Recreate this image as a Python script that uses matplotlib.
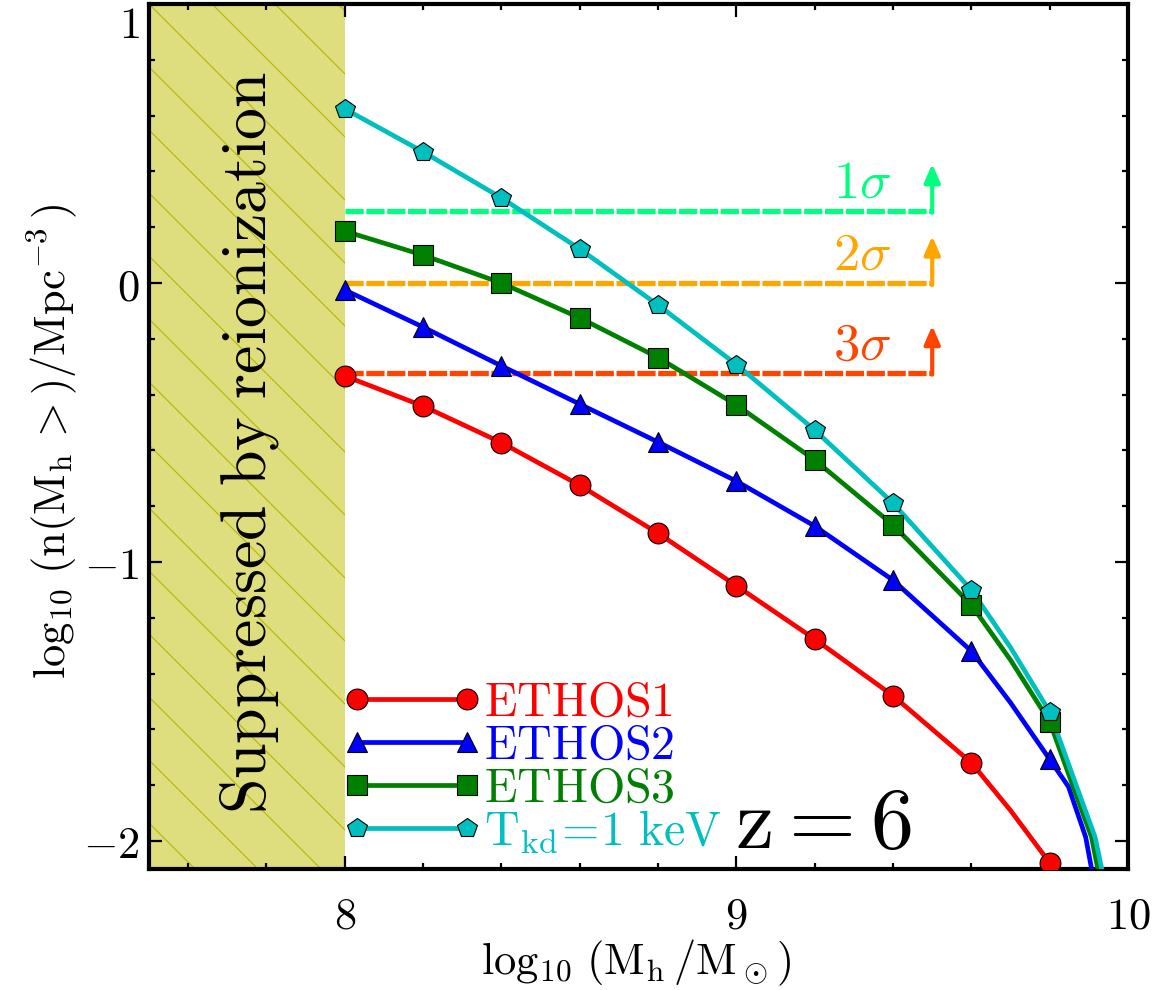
import numpy as np
import matplotlib
matplotlib.use('Agg')
import matplotlib.pyplot as plt
from matplotlib.ticker import MultipleLocator
from matplotlib.legend_handler import HandlerLine2D

plt.rcParams['mathtext.fontset'] = 'cm'
plt.rcParams['font.family'] = 'serif'
plt.rcParams['font.serif'] = ['DejaVu Serif']

# halo mass grid where the markers sit
logM = [8.0, 8.2, 8.4, 8.6, 8.8, 9.0, 9.2, 9.4, 9.6, 9.8]

# cumulative halo mass function, log10 n(>M) [Mpc^-3]
ethos1 = [-0.333, -0.441, -0.572, -0.725, -0.897, -1.085, -1.276, -1.479, -1.719, -2.078]
ethos2 = [-0.025, -0.158, -0.297, -0.434, -0.570, -0.710, -0.871, -1.065, -1.319, -1.707]
ethos3 = [0.186, 0.100, 0.000, -0.125, -0.267, -0.437, -0.634, -0.867, -1.154, -1.572]
tkd1kev = [0.624, 0.470, 0.305, 0.122, -0.079, -0.292, -0.527, -0.789, -1.100, -1.537]

# extra points read along the steep tail of each curve (x, y)
tail_x1 = [9.7, 9.81]
tail_y1 = [-1.890, -2.13]
tail_x2 = [9.7, 9.848, 9.892, 9.907]
tail_y2 = [-1.504, -1.805, -1.986, -2.1]
tail_x3 = [9.7, 9.860, 9.907, 9.923]
tail_y3 = [-1.351, -1.805, -1.986, -2.1]
tail_x4 = [9.7, 9.869, 9.916, 9.933]
tail_y4 = [-1.306, -1.805, -1.986, -2.1]

# observational lower limits
sigma_labels = [r'$1\sigma$', r'$2\sigma$', r'$3\sigma$']
sigma_levels = [0.259, 0.0, -0.321]
sigma_colors = ['springgreen', 'orange', 'orangered']

labels = [r'$\mathrm{ETHOS1}$', r'$\mathrm{ETHOS2}$', r'$\mathrm{ETHOS3}$',
          r'$\mathrm{T_{kd}\!=\!1\ keV}$']
colors = ['red', 'blue', 'green', 'c']
markers = ['o', '^', 's', 'p']

fig = plt.figure(figsize=(11.66, 9.9), dpi=100)
ax = fig.add_axes([149 / 1166, 121 / 990, 979 / 1166, 865 / 990])
ax.set_xlim(7.5, 10)
ax.set_ylim(-2.1, 1.0)

# reionization-suppressed region with sparse diagonal hatching
span = ax.axvspan(7.5, 8.0, color='y', alpha=0.5, lw=0, zorder=0)
p0 = ax.transData.transform((7.5, 1.0))
for k in range(-18, 6):
    x0 = p0[0] + k * 63
    pts = np.array([[x0 - 1500, p0[1] + 1500], [x0 + 1500, p0[1] - 1500]])
    dpts = ax.transData.inverted().transform(pts)
    ln, = ax.plot(dpts[:, 0], dpts[:, 1], color='#b5b500', lw=0.8, zorder=0.5)
    ln.set_clip_path(span)
ax.text(7.757, -0.57, r'$\mathrm{Suppressed\ by\ reionization}$', rotation=90,
        ha='center', va='center', fontsize=46)

series = [(ethos1, tail_x1, tail_y1), (ethos2, tail_x2, tail_y2),
          (ethos3, tail_x3, tail_y3), (tkd1kev, tail_x4, tail_y4)]
handles = []
for (yv, tx, ty), c, m, lab in zip(series, colors, markers, labels):
    xs = np.array(logM + tx)
    ys = np.array(yv + ty)
    order = np.argsort(xs)
    ax.plot(xs[order], ys[order], color=c, lw=3.4, zorder=3)
    ax.plot(logM, yv, color=c, marker=m, ms=15, mec='k', mew=0.8,
            linestyle='none', zorder=4)
    handles.append(ax.plot([], [], color=c, lw=3.4, marker=m, ms=15,
                           mec='k', mew=0.8)[0])

for lab, lev, c in zip(sigma_labels, sigma_levels, sigma_colors):
    ax.plot([8.0, 9.5], [lev, lev], color=c, lw=3.8, dashes=(3.45, 0.5), zorder=2)
    ax.annotate('', xy=(9.5, lev + 0.168), xytext=(9.5, lev - 0.007),
                arrowprops=dict(arrowstyle='-|>,head_length=0.55,head_width=0.24',
                                color=c, lw=3.0, shrinkA=0, shrinkB=0,
                                mutation_scale=20), zorder=2)
    ax.text(9.32, lev + 0.048, lab, color=c, fontsize=38, ha='center', va='baseline')

ax.text(9.222, -2.025, r'$\mathrm{z}=6$', fontsize=62, ha='center', va='baseline')

leg = ax.legend(handles, labels, loc='lower left', bbox_to_anchor=(0.2125, 0.016),
                frameon=False, fontsize=34.5, numpoints=2, handlelength=2.3,
                handletextpad=0.35, labelspacing=-0.08, borderpad=0, borderaxespad=0,
                handler_map={h: HandlerLine2D(marker_pad=0) for h in handles})
for t, c in zip(leg.get_texts(), colors):
    t.set_color(c)

ax.set_xticks([8, 9, 10])
ax.set_xticklabels([r'$8$', r'$9$', r'$10$'])
ax.set_yticks([-2, -1, 0, 1])
ax.set_yticklabels([r'$-2$', r'$-1$', r'$0$', r'$1$'])
ax.xaxis.set_minor_locator(MultipleLocator(0.2))
ax.yaxis.set_minor_locator(MultipleLocator(0.2))
ax.tick_params(which='both', direction='in', top=True, right=True, labelsize=32)
ax.tick_params(which='major', length=9.5, width=1.6)
ax.tick_params(which='minor', length=4, width=1.6)
ax.tick_params(axis='x', which='major', pad=18)
ax.tick_params(axis='y', which='major', pad=7)
ax.yaxis.get_major_ticks()[-1].label1.set_va('top')
for s in ax.spines.values():
    s.set_linewidth(3)

ax.set_xlabel(r'$\log_{10}\,(\mathrm{M_h}\,/\mathrm{M_\odot})$', fontsize=32)
ax.set_ylabel(r'$\log_{10}\,(\mathrm{n}(\mathrm{M_h}\,>)/\mathrm{Mpc^{-3}}\,)$', fontsize=32)
ax.xaxis.set_label_coords(0.498, -0.079)
ax.yaxis.set_label_coords(-0.072, 0.494)

fig.savefig('out.png', dpi=100)
